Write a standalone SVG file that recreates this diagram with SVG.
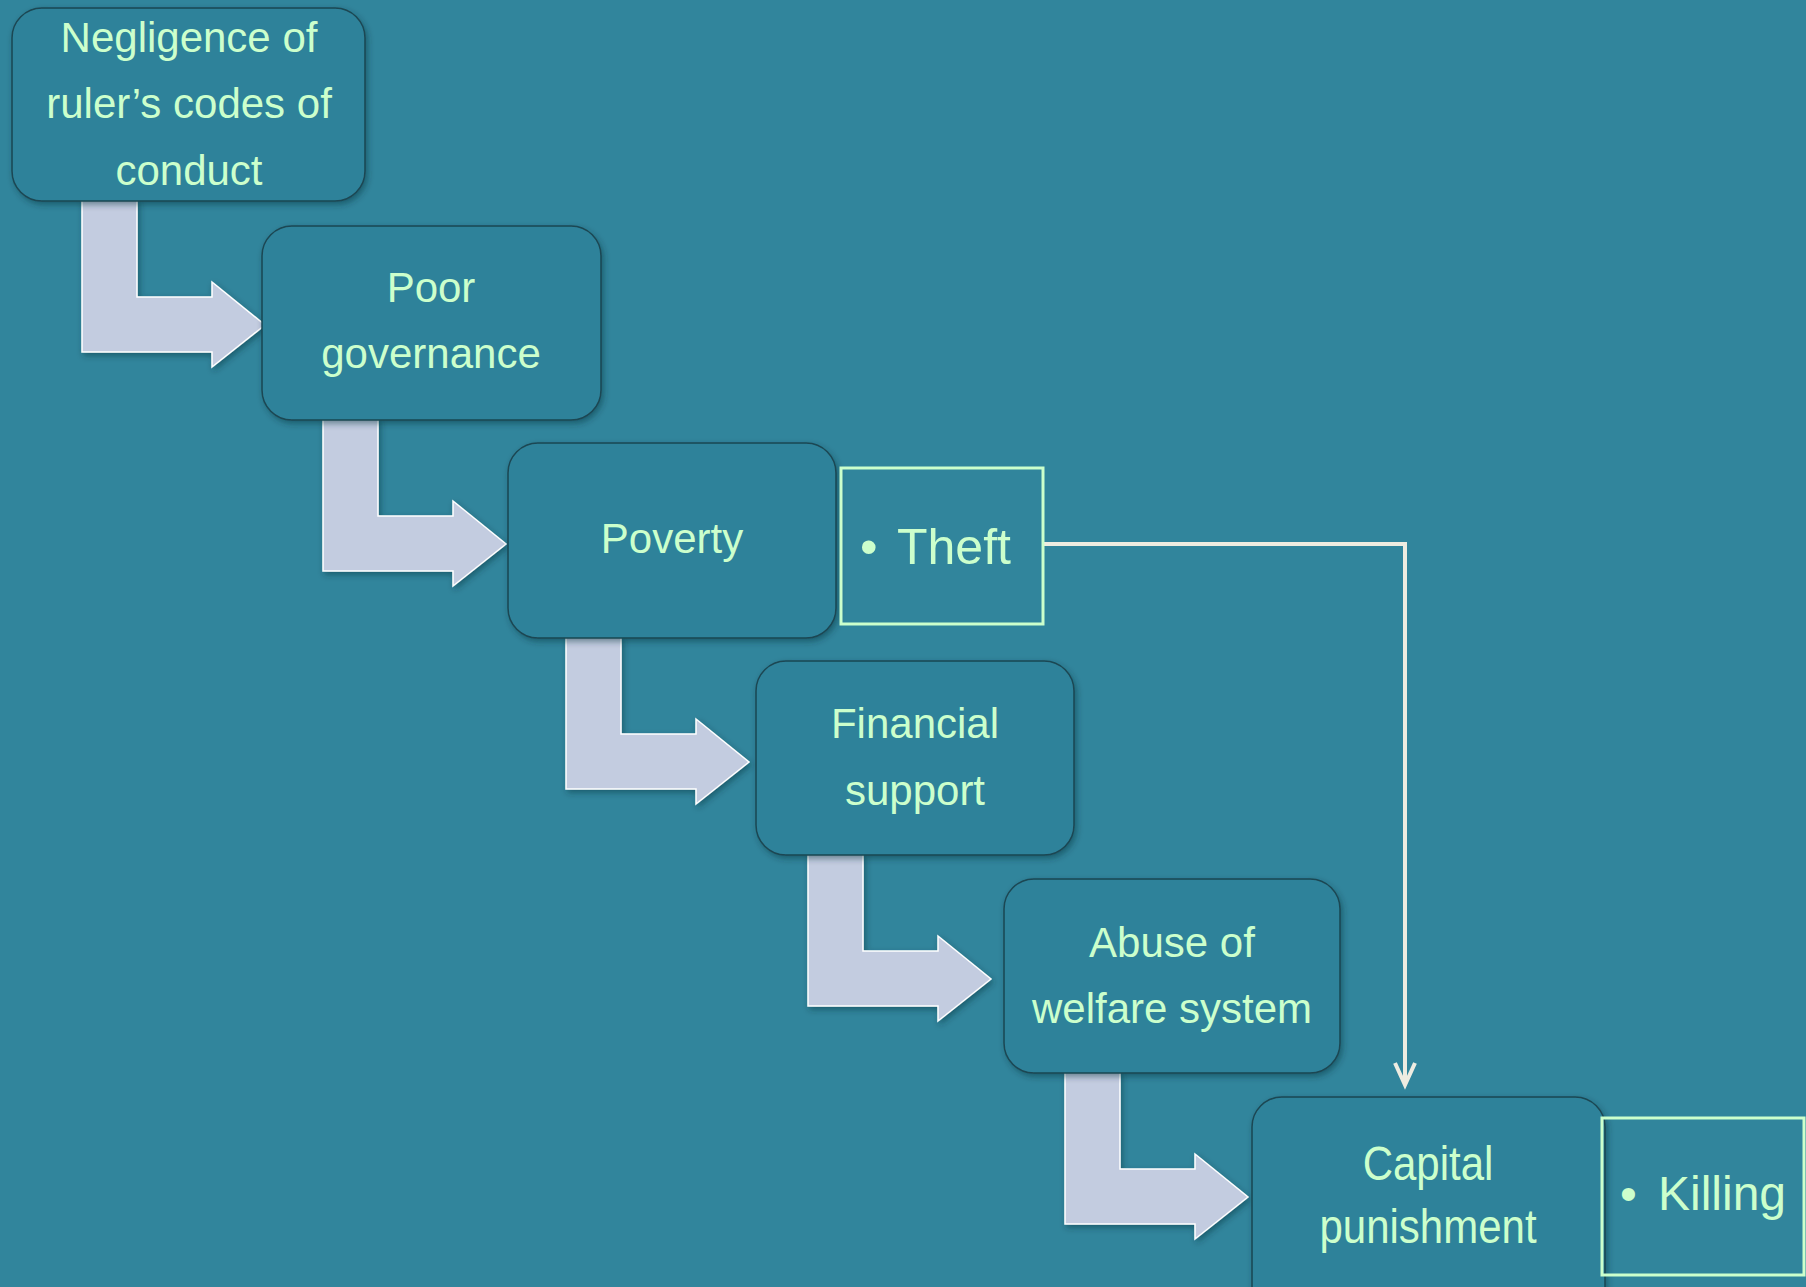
<svg xmlns="http://www.w3.org/2000/svg" width="1806" height="1287" viewBox="0 0 1806 1287">
  <style>
    .node { fill: #2F829A; stroke: #1B4753; stroke-width: 1.5; filter: url(#shadow); }
    .bend { fill: #C3CCE0; stroke: #FFFFFF; stroke-width: 1.5; filter: url(#shadow); }
    .lbl { font-family: "Liberation Sans", Arial, sans-serif; font-size: 42px; fill: #CCFFCC; text-anchor: middle; }
    .box { fill: none; stroke: #CCFFCC; stroke-width: 3; }
    .item { font-family: "Liberation Sans", Arial, sans-serif; fill: #CCFFCC; }
    .conn { fill: none; stroke: #EEECE1; stroke-width: 4; }
  </style>
  <defs>
    <filter id="shadow" x="-10%" y="-10%" width="130%" height="130%">
      <feDropShadow dx="2" dy="3" stdDeviation="3" flood-color="#0A2A33" flood-opacity="0.45"/>
    </filter>
    <path id="bentArrow" d="M0,-2 L55,-2 L55,96 L130,96 L130,81 L183,124 L130,166 L130,151 L0,151 Z"/>
    <marker id="chev" markerUnits="userSpaceOnUse" markerWidth="30" markerHeight="30" viewBox="-26 -14 30 28" refX="0" refY="0" orient="auto" overflow="visible">
      <path d="M-22,-10 L0,0 L-22,10" fill="none" stroke="#EEECE1" stroke-width="4" stroke-linejoin="miter"/>
    </marker>
  </defs>

  <rect x="0" y="0" width="1806" height="1287" fill="#31859C"/>

  <g id="bent-arrows">
    <use href="#bentArrow" class="bend" x="82" y="201"/>
    <use href="#bentArrow" class="bend" x="323" y="420"/>
    <use href="#bentArrow" class="bend" x="566" y="638"/>
    <use href="#bentArrow" class="bend" x="808" y="855"/>
    <use href="#bentArrow" class="bend" x="1065" y="1073"/>
  </g>

  <g id="connectors">
    <polyline class="conn" points="1043,544 1405,544 1405,1085" marker-end="url(#chev)"/>
  </g>

  <g id="node-negligence">
    <rect class="node" x="12" y="8" width="353" height="193" rx="30"/>
    <text class="lbl" x="189" y="52">Negligence of</text>
    <text class="lbl" x="189" y="118">ruler’s codes of</text>
    <text class="lbl" x="189" y="185">conduct</text>
  </g>

  <g id="node-governance">
    <rect class="node" x="262" y="226" width="339" height="194" rx="30"/>
    <text class="lbl" x="431" y="302">Poor</text>
    <text class="lbl" x="431" y="368">governance</text>
  </g>

  <g id="node-poverty">
    <rect class="node" x="508" y="443" width="328" height="195" rx="30"/>
    <text class="lbl" x="672" y="553">Poverty</text>
  </g>

  <g id="node-theft">
    <rect class="box" x="841" y="468" width="202" height="156"/>
    <text class="item" font-size="50" y="564"><tspan x="860">•</tspan><tspan x="897">Theft</tspan></text>
  </g>

  <g id="node-financial">
    <rect class="node" x="756" y="661" width="318" height="194" rx="30"/>
    <text class="lbl" x="915" y="738">Financial</text>
    <text class="lbl" x="915" y="805">support</text>
  </g>

  <g id="node-abuse">
    <rect class="node" x="1004" y="879" width="336" height="194" rx="30"/>
    <text class="lbl" x="1172" y="957">Abuse of</text>
    <text class="lbl" x="1172" y="1023">welfare system</text>
  </g>

  <g id="node-capital">
    <rect class="node" x="1252" y="1097" width="353" height="220" rx="30"/>
    <text class="lbl" transform="translate(1428 1180) scale(1 1.15)" x="0" y="0">Capital</text>
    <text class="lbl" transform="translate(1428 1243) scale(1 1.15)" x="0" y="0">punishment</text>
  </g>

  <g id="node-killing">
    <rect class="box" x="1602" y="1118" width="202" height="157"/>
    <text class="item" font-size="48" y="1210"><tspan x="1620">•</tspan><tspan x="1658">Killing</tspan></text>
  </g>
</svg>
